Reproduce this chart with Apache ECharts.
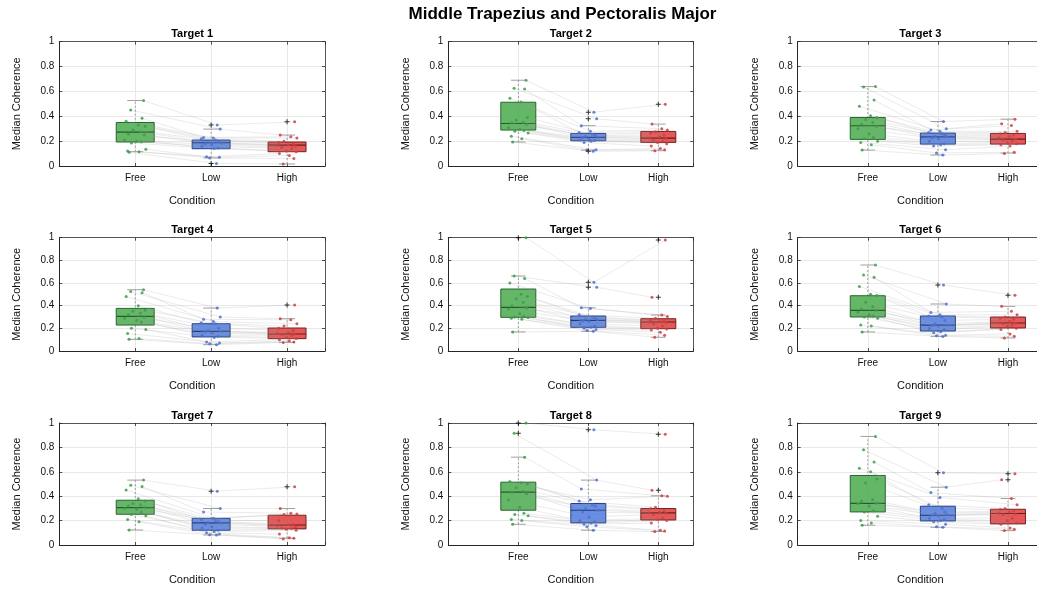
<!DOCTYPE html>
<html><head><meta charset="utf-8">
<script src="https://cdn.jsdelivr.net/npm/echarts@6/dist/echarts.min.js"></script>
<style>html,body{margin:0;padding:0;background:#fff}#c{width:1037px;height:591px}</style>
</head><body><div id="c"></div>
<script>
// ---------------- DATA ----------------
const MAIN_TITLE = 'Middle Trapezius and Pectoralis Major';
const CATEGORIES = ['Free', 'Low', 'High'];
const TARGETS = ['Target 1','Target 2','Target 3','Target 4','Target 5','Target 6','Target 7','Target 8','Target 9'];
const Y_AXIS_NAME = 'Median Coherence';
const X_AXIS_NAME = 'Condition';

// box stats per condition: [lower whisker, Q1, median, Q3, upper whisker]
const T1_FREE = [0.527,0.45,0.385,0.36,0.33,0.32,0.29,0.275,0.257,0.25,0.21,0.2,0.195,0.185,0.134,0.12,0.115,0.11];
const T1_LOW  = [0.33,0.297,0.23,0.225,0.22,0.21,0.2,0.19,0.185,0.18,0.17,0.16,0.145,0.14,0.075,0.07,0.065,0.02];
const T1_HIGH = [0.355,0.25,0.235,0.225,0.2,0.19,0.18,0.17,0.165,0.16,0.15,0.14,0.12,0.115,0.1,0.085,0.06,0.016];
const T1_BOX  = [[0.115,0.193,0.273,0.35,0.527],[0.065,0.139,0.187,0.209,0.297],[0.016,0.115,0.168,0.193,0.249]];
const T1_OUT  = [[],[0.33,0.02],[0.355]];

const T2_FREE = [0.69,0.625,0.62,0.545,0.515,0.39,0.37,0.35,0.345,0.335,0.31,0.295,0.285,0.28,0.265,0.24,0.22,0.193];
const T2_LOW  = [0.433,0.38,0.324,0.28,0.27,0.255,0.245,0.24,0.232,0.228,0.22,0.21,0.205,0.2,0.19,0.13,0.128,0.118];
const T2_HIGH = [0.497,0.337,0.3,0.29,0.275,0.265,0.25,0.235,0.225,0.22,0.21,0.2,0.19,0.18,0.16,0.14,0.13,0.123];
const T2_BOX  = [[0.193,0.289,0.342,0.513,0.69],[0.128,0.203,0.23,0.262,0.324],[0.123,0.19,0.225,0.278,0.337]];
const T2_OUT  = [[],[0.433,0.38,0.118],[0.497]];

const T3_FREE = [0.639,0.635,0.53,0.48,0.405,0.39,0.375,0.35,0.335,0.32,0.3,0.26,0.23,0.22,0.2,0.19,0.17,0.128];
const T3_LOW  = [0.358,0.3,0.29,0.28,0.27,0.26,0.25,0.24,0.235,0.23,0.22,0.2,0.18,0.17,0.16,0.13,0.105,0.088];
const T3_HIGH = [0.377,0.34,0.325,0.28,0.27,0.26,0.25,0.24,0.225,0.215,0.21,0.2,0.19,0.18,0.17,0.16,0.11,0.1];
const T3_BOX  = [[0.128,0.214,0.324,0.39,0.639],[0.088,0.176,0.235,0.265,0.358],[0.104,0.176,0.217,0.262,0.377]];
const T3_OUT  = [[],[],[]];

const T4_FREE = [0.541,0.525,0.515,0.48,0.4,0.36,0.35,0.335,0.32,0.3,0.29,0.27,0.255,0.2,0.19,0.155,0.11,0.103];
const T4_LOW  = [0.379,0.3,0.28,0.26,0.25,0.24,0.2,0.18,0.175,0.17,0.16,0.14,0.13,0.12,0.08,0.07,0.065,0.056];
const T4_HIGH = [0.406,0.285,0.275,0.24,0.22,0.2,0.18,0.16,0.155,0.15,0.145,0.14,0.12,0.11,0.1,0.09,0.08,0.076];
const T4_BOX  = [[0.103,0.229,0.306,0.376,0.541],[0.056,0.124,0.174,0.241,0.379],[0.076,0.109,0.15,0.203,0.285]];
const T4_OUT  = [[],[],[0.406]];

const T5_FREE = [1.0,0.662,0.64,0.6,0.5,0.48,0.46,0.43,0.4,0.38,0.37,0.33,0.31,0.3,0.295,0.29,0.28,0.168];
const T5_LOW  = [0.606,0.562,0.382,0.375,0.32,0.3,0.29,0.28,0.275,0.265,0.26,0.24,0.22,0.21,0.2,0.19,0.18,0.174];
const T5_HIGH = [0.979,0.474,0.318,0.305,0.29,0.275,0.265,0.26,0.255,0.25,0.24,0.22,0.2,0.195,0.185,0.165,0.14,0.121];
const T5_BOX  = [[0.168,0.297,0.385,0.547,0.662],[0.174,0.209,0.271,0.309,0.382],[0.121,0.197,0.256,0.285,0.318]];
const T5_OUT  = [[1.0],[0.606,0.562],[0.979,0.474]];

const T6_FREE = [0.759,0.67,0.65,0.57,0.5,0.49,0.43,0.39,0.37,0.36,0.345,0.32,0.31,0.3,0.29,0.23,0.22,0.168];
const T6_LOW  = [0.582,0.415,0.34,0.32,0.31,0.3,0.27,0.24,0.23,0.225,0.22,0.2,0.19,0.17,0.16,0.14,0.135,0.129];
const T6_HIGH = [0.491,0.394,0.35,0.32,0.3,0.29,0.28,0.26,0.25,0.245,0.24,0.23,0.22,0.2,0.19,0.15,0.13,0.115];
const T6_BOX  = [[0.168,0.3,0.359,0.488,0.759],[0.129,0.176,0.229,0.309,0.415],[0.115,0.203,0.247,0.3,0.394]];
const T6_OUT  = [[],[0.582],[0.491]];

const T7_FREE = [0.532,0.49,0.48,0.45,0.38,0.36,0.34,0.33,0.32,0.31,0.3,0.29,0.27,0.25,0.24,0.21,0.19,0.123];
const T7_LOW  = [0.441,0.299,0.27,0.22,0.21,0.2,0.19,0.185,0.18,0.17,0.15,0.14,0.12,0.11,0.1,0.09,0.085,0.082];
const T7_HIGH = [0.477,0.299,0.26,0.255,0.25,0.2,0.17,0.165,0.16,0.15,0.14,0.135,0.13,0.12,0.09,0.06,0.055,0.05];
const T7_BOX  = [[0.123,0.252,0.307,0.367,0.532],[0.082,0.121,0.181,0.219,0.299],[0.055,0.132,0.164,0.244,0.299]];
const T7_OUT  = [[],[0.441],[0.477]];

const T8_FREE = [1.0,0.915,0.72,0.52,0.51,0.5,0.47,0.44,0.43,0.42,0.37,0.31,0.26,0.25,0.24,0.21,0.2,0.17];
const T8_LOW  = [0.945,0.532,0.46,0.37,0.36,0.33,0.32,0.3,0.285,0.27,0.23,0.2,0.19,0.18,0.17,0.16,0.15,0.121];
const T8_HIGH = [0.907,0.449,0.403,0.4,0.31,0.3,0.28,0.27,0.265,0.26,0.25,0.22,0.21,0.2,0.18,0.12,0.115,0.11];
const T8_BOX  = [[0.17,0.285,0.433,0.515,0.72],[0.121,0.181,0.285,0.34,0.532],[0.11,0.205,0.263,0.299,0.403]];
const T8_OUT  = [[1.0,0.915],[0.945],[0.907,0.449]];

const T9_FREE = [0.89,0.78,0.68,0.63,0.6,0.54,0.51,0.37,0.36,0.345,0.34,0.32,0.28,0.27,0.235,0.2,0.18,0.162];
const T9_LOW  = [0.592,0.474,0.43,0.39,0.33,0.3,0.27,0.26,0.25,0.245,0.24,0.22,0.21,0.2,0.19,0.17,0.15,0.145];
const T9_HIGH = [0.584,0.534,0.381,0.33,0.3,0.29,0.28,0.27,0.26,0.255,0.25,0.22,0.2,0.18,0.17,0.14,0.13,0.118];
const T9_BOX  = [[0.162,0.271,0.342,0.57,0.89],[0.145,0.197,0.244,0.318,0.474],[0.118,0.173,0.258,0.293,0.381]];
const T9_OUT  = [[],[0.592],[0.584,0.534]];

// ---------------- PRESENTATION ----------------
const POINTS = [[T1_FREE,T1_LOW,T1_HIGH],[T2_FREE,T2_LOW,T2_HIGH],[T3_FREE,T3_LOW,T3_HIGH],
  [T4_FREE,T4_LOW,T4_HIGH],[T5_FREE,T5_LOW,T5_HIGH],[T6_FREE,T6_LOW,T6_HIGH],
  [T7_FREE,T7_LOW,T7_HIGH],[T8_FREE,T8_LOW,T8_HIGH],[T9_FREE,T9_LOW,T9_HIGH]];
const BOXES = [T1_BOX,T2_BOX,T3_BOX,T4_BOX,T5_BOX,T6_BOX,T7_BOX,T8_BOX,T9_BOX];
const OUTS = [T1_OUT,T2_OUT,T3_OUT,T4_OUT,T5_OUT,T6_OUT,T7_OUT,T8_OUT,T9_OUT];

// horizontal jitter (display only)
const JITTER = [
  [0.11,-0.06,0.09,-0.12,0.04,0.13,-0.03,0.07,-0.09,0.12,-0.14,0.02,0.08,-0.05,0.14,-0.1,0.05,-0.08],
  [0.08,0.12,-0.1,0.03,-0.13,0.06,0.1,-0.04,0.13,-0.08,0.01,-0.12,0.09,0.04,-0.06,0.11,-0.02,0.07],
  [0.1,-0.09,0.05,0.13,-0.04,-0.11,0.08,0.02,-0.13,0.11,-0.07,0.06,-0.01,0.12,-0.1,0.03,0.09,-0.05]
];

const FILL = ['#5bb35f', '#5e87e1', '#e15050'];
const EDGE = ['#245f2b', '#1a3780', '#6e1a1a'];
const DOT  = ['#3f9c48', '#4c70d2', '#d23e3e'];
const BOX_W = 0.5, CAP_W = 0.21;
const FONT = '"Liberation Sans", Arial, Helvetica, sans-serif';

const COL_LEFT = [59.3, 448.3, 797.7];
const COL_W = [265.7, 245, 245.3];
const ROW_TOP = [41.7, 237.7, 423];
const ROW_H = [124.3, 113.3, 122];

function renderBox(params, api) {
  const ci = params.dataIndex;
  const x = api.value(0);
  const hw = api.size([BOX_W / 2, 0])[0];
  const cw = api.size([CAP_W / 2, 0])[0];
  const lo = api.coord([x, api.value(1)]);
  const q1 = api.coord([x, api.value(2)]);
  const md = api.coord([x, api.value(3)]);
  const q3 = api.coord([x, api.value(4)]);
  const hi = api.coord([x, api.value(5)]);
  const cx = lo[0];
  return {
    type: 'group',
    children: [
      {type: 'line', shape: {x1: cx, y1: lo[1], x2: cx, y2: hi[1]}, style: {stroke: '#8a8a8a', lineWidth: 0.8, lineDash: [2, 2]}},
      {type: 'line', shape: {x1: cx - cw, y1: lo[1], x2: cx + cw, y2: lo[1]}, style: {stroke: '#a0a0a0', lineWidth: 1}},
      {type: 'line', shape: {x1: cx - cw, y1: hi[1], x2: cx + cw, y2: hi[1]}, style: {stroke: '#a0a0a0', lineWidth: 1}},
      {type: 'rect', shape: {x: cx - hw, y: q3[1], width: 2 * hw, height: q1[1] - q3[1]},
        style: {fill: FILL[ci], stroke: EDGE[ci], lineWidth: 1, opacity: 0.95}},
      {type: 'line', shape: {x1: cx - hw, y1: md[1], x2: cx + hw, y2: md[1]}, style: {stroke: EDGE[ci], lineWidth: 1.2}}
    ]
  };
}

const PLUS = 'path://M1.6,0h0.8v1.6h1.6v0.8h-1.6v1.6h-0.8v-1.6h-1.6v-0.8h1.6z';

const grids = [], xAxes = [], yAxes = [], series = [], graphics = [];
graphics.push({type: 'text', x: 562.5, y: 14, style: {text: MAIN_TITLE, font: 'bold 17px ' + FONT, fill: '#000', textAlign: 'center', textVerticalAlign: 'middle'}});

for (let g = 0; g < 9; g++) {
  const r = Math.floor(g / 3), c = g % 3;
  grids.push({left: COL_LEFT[c], top: ROW_TOP[r], width: COL_W[c], height: ROW_H[r],
    containLabel: false, outerBoundsMode: 'none'});
  graphics.push({type: 'text', x: COL_LEFT[c] + COL_W[c] / 2, y: ROW_TOP[r] - 7.5,
    style: {text: TARGETS[g], font: 'bold 11px ' + FONT, fill: '#000', textAlign: 'center', textVerticalAlign: 'middle'}});

  const tick = {show: true, inside: true, length: 3, lineStyle: {color: '#262626', width: 0.8}};
  xAxes.push({
    gridIndex: g, type: 'value', min: 0, max: 3.5, interval: 1, position: 'bottom',
    axisLine: {show: true, onZero: false, lineStyle: {color: '#262626', width: 1}},
    axisTick: tick,
    axisLabel: {show: true, margin: 7, fontFamily: FONT, fontSize: 10, color: '#111',
      formatter: v => (v >= 1 && v <= 3 && Math.abs(v - Math.round(v)) < 1e-6) ? CATEGORIES[Math.round(v) - 1] : ''},
    splitLine: {show: true, lineStyle: {color: '#e8e8e8', width: 1}},
    name: X_AXIS_NAME, nameLocation: 'middle', nameGap: 29,
    nameTextStyle: {fontFamily: FONT, fontSize: 11, color: '#111'}
  });
  xAxes.push({
    gridIndex: g, type: 'value', min: 0, max: 3.5, interval: 1, position: 'top',
    axisLine: {show: true, onZero: false, lineStyle: {color: '#555', width: 1}},
    axisTick: tick, axisLabel: {show: false}, splitLine: {show: false}
  });
  yAxes.push({
    gridIndex: g, type: 'value', min: 0, max: 1, interval: 0.2, position: 'left',
    axisLine: {show: true, onZero: false, lineStyle: {color: '#262626', width: 1}},
    axisTick: tick,
    axisLabel: {show: true, margin: 5, fontFamily: FONT, fontSize: 10, color: '#111'},
    splitLine: {show: true, lineStyle: {color: '#e8e8e8', width: 1}},
    name: Y_AXIS_NAME, nameLocation: 'middle', nameGap: 37,
    nameTextStyle: {fontFamily: FONT, fontSize: 11, color: '#111'}
  });
  yAxes.push({
    gridIndex: g, type: 'value', min: 0, max: 1, interval: 0.2, position: 'right',
    axisLine: {show: true, onZero: false, lineStyle: {color: '#555', width: 1}},
    axisTick: tick, axisLabel: {show: false}, splitLine: {show: false}
  });

  const xi = 2 * g, yi = 2 * g;
  const pts = POINTS[g];

  series.push({
    type: 'custom', xAxisIndex: xi, yAxisIndex: yi, renderItem: renderBox, z: 2, silent: true, clip: false,
    encode: {x: 0, y: [1, 2, 3, 4, 5]},
    data: BOXES[g].map((b, k) => [k + 1].concat(b))
  });

  series.push({
    type: 'lines', coordinateSystem: 'cartesian2d', xAxisIndex: xi, yAxisIndex: yi, polyline: true, z: 3, silent: true,
    lineStyle: {color: '#9e9e9e', width: 0.6, opacity: 0.35},
    data: pts[0].map((v, i) => ({coords: [
      [1 + JITTER[0][i], pts[0][i]],
      [2 + JITTER[1][i], pts[1][i]],
      [3 + JITTER[2][i], pts[2][i]]
    ]}))
  });

  for (let k = 0; k < 3; k++) {
    series.push({
      type: 'scatter', xAxisIndex: xi, yAxisIndex: yi, z: 4, silent: true,
      symbol: 'circle', symbolSize: 3,
      itemStyle: {color: DOT[k], opacity: 0.85},
      data: pts[k].map((v, i) => [k + 1 + JITTER[k][i], v])
    });
  }

  const outData = [];
  OUTS[g].forEach((arr, k) => arr.forEach(v => outData.push([k + 1, v])));
  series.push({
    type: 'scatter', xAxisIndex: xi, yAxisIndex: yi, z: 5, silent: true,
    symbol: PLUS, symbolSize: 5, itemStyle: {color: '#000'}, data: outData
  });
}

const chart = echarts.init(document.getElementById('c'), null, {renderer: 'canvas'});
chart.setOption({
  animation: false,
  backgroundColor: '#fff',
  grid: grids, xAxis: xAxes, yAxis: yAxes, series: series,
  graphic: graphics
});
</script>
</body></html>
